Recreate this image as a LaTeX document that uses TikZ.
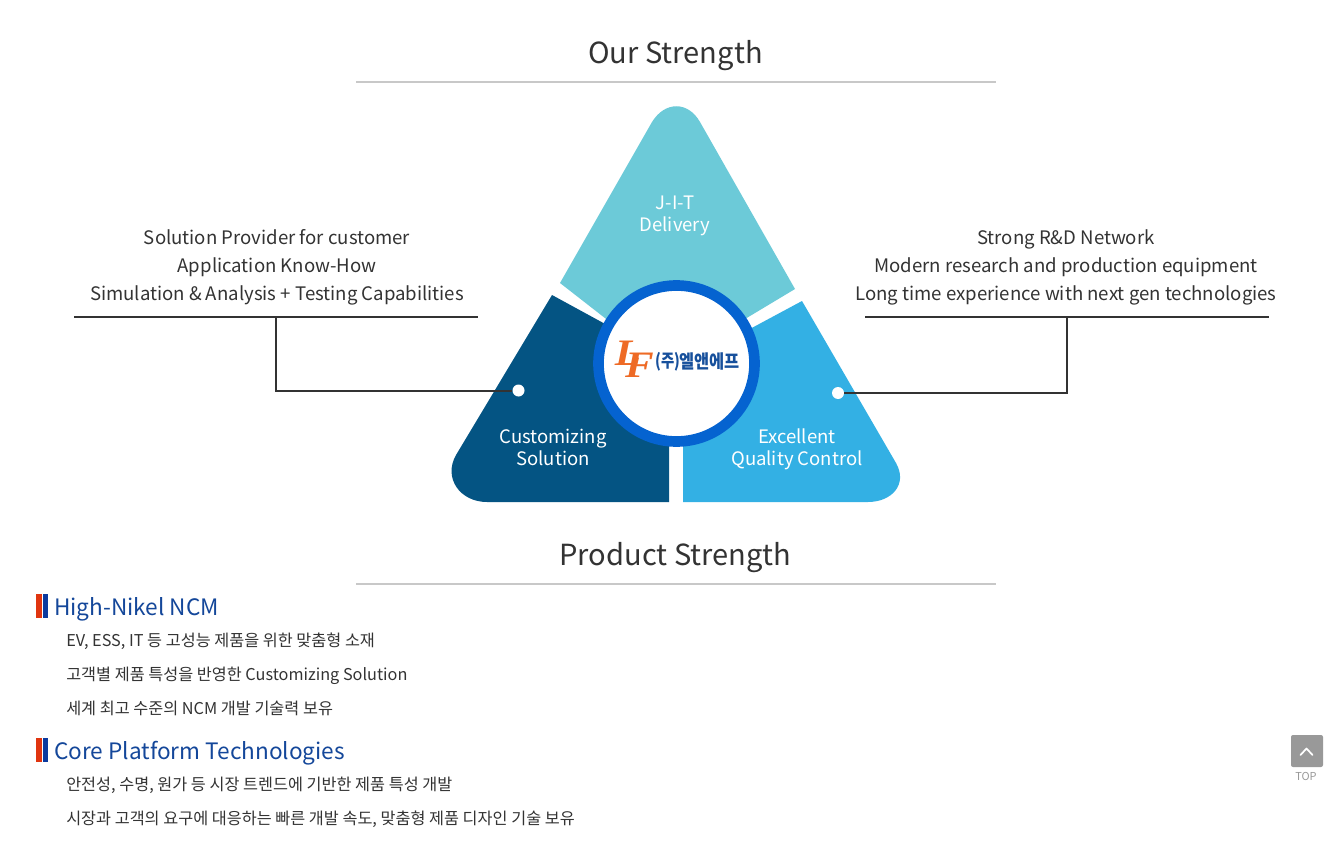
\documentclass[tikz,border=0pt]{standalone}
\usepackage{graphicx}
\usepackage{fontspec}
\setmainfont{Noto Sans CJK KR}
\newfontfamily\logoserif{Liberation Serif}
\definecolor{titlecol}{HTML}{333333}
\definecolor{rulegray}{HTML}{C8C8C8}
\definecolor{topteal}{HTML}{6CCAD8}
\definecolor{leftnavy}{HTML}{045483}
\definecolor{rightblue}{HTML}{33B0E4}
\definecolor{ringblue}{HTML}{0563D0}
\definecolor{headblue}{HTML}{14479A}
\definecolor{barred}{HTML}{E0350F}
\definecolor{barblue}{HTML}{0B3A9E}
\definecolor{logoorange}{HTML}{EE6A25}
\definecolor{logoblue}{HTML}{17509C}
\definecolor{topgray}{HTML}{999999}
\tikzset{
  x=0.75pt,y=-0.75pt,
  titletext/.style={text=titlecol,font=\fontsize{21.8pt}{26pt}\selectfont,inner sep=0pt,anchor=base},
  sidetext/.style={text=titlecol,font=\fontsize{13.95pt}{21pt}\selectfont,align=center,inner sep=0pt,anchor=center},
  wedgetext/.style={text=white,font=\fontsize{13.9pt}{16.5pt}\selectfont,align=center,inner sep=0pt,anchor=center},
  headtext/.style={text=headblue,font=\fontsize{16.95pt}{22pt}\selectfont,inner sep=0pt,anchor=base west},
  bodytext/.style={text=titlecol,font=\fontsize{12.2pt}{15pt}\selectfont,inner sep=0pt,anchor=base west},
  linkline/.style={draw=titlecol,line width=1.5pt},
  titlerule/.style={draw=rulegray,line width=1.5pt},
  whitedot/.style={circle,fill=white,minimum size=9pt,inner sep=0pt},
}
\begin{document}
\begin{tikzpicture}
\useasboundingbox (0,0) rectangle (1332,863);
\fill[white] (0,0) rectangle (1332,863);

% titles
\node[titletext] (t1) at (675.5,63.5) {Our Strength};
\coordinate (r1a) at (356,82); \coordinate (r1b) at (996,82);
\draw[titlerule] (r1a) -- (r1b);
\node[titletext] (t2) at (675.5,565.5) {Product Strength};
\coordinate (r2a) at (356,584); \coordinate (r2b) at (996,584);
\draw[titlerule] (r2a) -- (r2b);

% wedges
\fill[topteal] (560,283) -- (652,122) .. controls (665,101) and (688,101) .. (700,122) -- (795,289) -- (740,322) -- (610,322) -- cycle;
\fill[leftnavy] (552,295) -- (607,325) -- (640,400) -- (669,420) -- (669,502) -- (487,502) .. controls (460,502) and (443,478) .. (456,455) -- cycle;
\fill[rightblue] (802,301) -- (896,463) .. controls (908,484) and (892,502) .. (868,502) -- (683,502) -- (683,420) -- (720,400) -- (748,330) -- cycle;

% centre
\node[circle,draw=ringblue,line width=8pt,fill=white,minimum size=117pt,inner sep=0pt] (hub) at (676.5,363.5) {};
\node[inner sep=0pt,text=logoorange,font=\logoserif\bfseries\itshape\fontsize{28pt}{28pt}\selectfont] (logoL) at (628,353) {\scalebox{1.15}[1]{L}};
\node[inner sep=0pt,text=logoorange,font=\logoserif\bfseries\itshape\fontsize{28pt}{28pt}\selectfont] (logoF) at (639.5,365) {\scalebox{1.15}[1]{F}};
\node[inner sep=0pt,text=logoblue,font=\bfseries\fontsize{13.5pt}{14pt}\selectfont,anchor=west] (logopar) at (655,361.5) {\scalebox{0.8}[1]{(주)}};
\node[inner sep=0pt,text=logoblue,font=\bfseries\fontsize{14pt}{14pt}\selectfont,anchor=west] (logotext) at (679,361.5) {\scalebox{0.88}[1]{엘앤에프}};

% wedge labels
\node[wedgetext] (w1) at (675,216) {J-I-T\\Delivery};
\node[wedgetext] (w2) at (553,447.5) {Customizing\\Solution};
\node[wedgetext] (w3) at (797,449.4) {Excellent\\Quality Control};

% side text
\node[sidetext] (s1) at (277,267.5) {Solution Provider for customer\\Application Know-How\\Simulation \& Analysis + Testing Capabilities};
\node[sidetext] (s2) at (1066,267.5) {Strong R\&D Network\\Modern research and production equipment\\Long time experience with next gen technologies};

% connectors
\coordinate (la) at (74,317); \coordinate (lb) at (478,317); \coordinate (lm) at (276,317);
\coordinate (ra) at (865,317); \coordinate (rb) at (1269,317); \coordinate (rm) at (1067,317);
\draw[linkline] (la) -- (lb);
\draw[linkline] (ra) -- (rb);
\node[whitedot] (dl) at (518.5,390.5) {};
\node[whitedot] (dr) at (838,393) {};
\draw[linkline] (lm) |- (dl.west);
\draw[linkline] (rm) |- (dr.east);

% product section
\fill[barred] (36,594) rectangle (42,618);
\fill[barblue] (43,594) rectangle (48,618);
\node[headtext] (h1) at (54,615) {High-Nikel NCM};
\node[bodytext] (b1) at (66,646) {EV, ESS, IT 등 고성능 제품을 위한 맞춤형 소재};
\node[bodytext] (b2) at (66,680) {고객별 제품 특성을 반영한 Customizing Solution};
\node[bodytext] (b3) at (66,714) {세계 최고 수준의 NCM 개발 기술력 보유};
\fill[barred] (36,738) rectangle (42,762);
\fill[barblue] (43,738) rectangle (48,762);
\node[headtext] (h2) at (54,759) {Core Platform Technologies};
\node[bodytext] (b4) at (66,790) {안전성, 수명, 원가 등 시장 트렌드에 기반한 제품 특성 개발};
\node[bodytext] (b5) at (66,824) {시장과 고객의 요구에 대응하는 빠른 개발 속도, 맞춤형 제품 디자인 기술 보유};

% top button
\node[fill=topgray,rounded corners=1.5pt,minimum size=24pt,inner sep=0pt] (topbtn) at (1307,751) {};
\draw[white,line width=1.3pt,line cap=round,line join=round] (1300.5,755) -- (1306.5,748.5) -- (1312.5,755);
\node[inner sep=0pt,text=topgray,font=\fontsize{8.2pt}{9pt}\selectfont] (toplabel) at (1306,776.5) {TOP};
\end{tikzpicture}
\end{document}
